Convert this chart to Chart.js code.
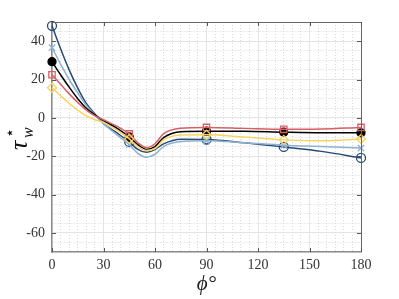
<!DOCTYPE html>
<html>
<head>
<meta charset="utf-8">
<script src="https://cdn.jsdelivr.net/npm/chart.js@4"></script>
<style>
  html, body { margin: 0; padding: 0; background: #fff; }
  #wrap { width: 399px; height: 299px; }
</style>
</head>
<body>
<div id="wrap"><canvas id="myChart" width="399" height="299"></canvas></div>
<script>
// angle phi (deg), markers only at 0, 45, 90, 135, 180
const phi = [0, 5, 10, 15, 20, 25, 30, 38, 45, 50, 55, 60, 65, 75, 90, 112, 135, 157, 180];
const markerAt = [0, 45, 90, 135, 180];

const tauDarkBlue  = [48, 36, 25, 15.5, 7.5, 2, -3, -8, -12.6, -16.5, -18, -16.5, -13.6, -11.2, -11.3, -13, -15.2, -17.5, -20.9];
const tauLightBlue = [36.6, 28, 20, 13, 6.5, 1.5, -3, -9, -14, -18.5, -20.5, -19, -15, -12.4, -12, -13, -14.3, -15, -15.8];
const tauBlack     = [29.3, 22.5, 16, 10, 5, 1.5, -1.5, -5.5, -10, -14, -16.5, -15, -10.3, -7.2, -7, -7, -7.5, -7.8, -7.8];
const tauRed       = [22.5, 17.5, 12.5, 8, 4, 1, -1, -4.5, -8.4, -13, -15.5, -13.5, -8.2, -5.4, -5, -5.5, -6, -5.8, -5];
const tauYellow    = [15.7, 11.5, 7.5, 4, 1, -1, -2.5, -6.5, -11, -15, -17, -16, -11.5, -8.9, -8.8, -10, -11.5, -12, -11];

const xTicks = [0, 30, 60, 90, 120, 150, 180];
const yTicks = [-60, -40, -20, 0, 20, 40];

const serif = "'Liberation Serif', 'DejaVu Serif', serif";

function pts(vals) {
  return phi.map((p, i) => ({ x: p, y: vals[i] }));
}
function radii(r) {
  return phi.map(p => markerAt.includes(p) ? r : 0);
}

function makeSet(label, vals, color, style, r, fill) {
  return {
    label: label,
    data: pts(vals),
    borderColor: color,
    backgroundColor: fill,
    pointStyle: style,
    pointRadius: radii(r),
    pointHoverRadius: radii(r),
    pointBorderColor: color,
    pointBackgroundColor: fill,
    pointBorderWidth: 1.3,
    borderWidth: 1.5,
    tension: 0.4,
    cubicInterpolationMode: 'monotone',
    clip: false
  };
}

// box + inward ticks like matlab, and the y label with sub/superscript
const boxPlugin = {
  id: 'box',
  afterDraw(chart) {
    const c = chart.ctx;
    const a = chart.chartArea;
    const xs = chart.scales.x, ys = chart.scales.y;
    c.save();
    c.strokeStyle = '#666';
    c.lineWidth = 1;
    c.beginPath();
    c.moveTo(a.left, a.top + 0.5); c.lineTo(a.right + 0.5, a.top + 0.5);
    c.lineTo(a.right + 0.5, a.bottom);
    c.stroke();
    c.strokeStyle = '#555';
    c.beginPath();
    xTicks.forEach(v => {
      const px = Math.round(xs.getPixelForValue(v)) + 0.5;
      c.moveTo(px, a.bottom); c.lineTo(px, a.bottom - 4);
      c.moveTo(px, a.top); c.lineTo(px, a.top + 4);
    });
    yTicks.forEach(v => {
      const py = Math.round(ys.getPixelForValue(v)) + 0.5;
      c.moveTo(a.left, py); c.lineTo(a.left + 4, py);
      c.moveTo(a.right, py); c.lineTo(a.right - 4, py);
    });
    c.stroke();

    // y label
    c.translate(21, (a.top + a.bottom) / 2);
    c.rotate(-Math.PI / 2);
    c.fillStyle = '#111';
    c.textBaseline = 'alphabetic';
    c.textAlign = 'left';
    c.font = "italic 26px " + serif;
    c.fillText('τ', -13, 6);
    c.font = "16px " + serif;
    c.fillText('⋆', -1, -6);
    c.font = "italic 16px " + serif;
    c.fillText('w', -1, 12);
    c.restore();
  }
};

const ctx = document.getElementById('myChart').getContext('2d');
const myChart = new Chart(ctx, {
  type: 'line',
  data: {
    datasets: [
      makeSet('yellow', tauYellow, '#f9d35f', 'rectRot', 4.5, 'rgba(255,255,255,0)'),
      makeSet('red', tauRed, '#d95f63', 'rect', 4.5, 'rgba(255,255,255,0)'),
      makeSet('black', tauBlack, '#000000', 'circle', 4, '#000000'),
      makeSet('light blue', tauLightBlue, '#8fb1d1', 'crossRot', 4.5, 'rgba(255,255,255,0)'),
      makeSet('dark blue', tauDarkBlue, '#264a73', 'circle', 4.5, 'rgba(255,255,255,0)')
    ]
  },
  options: {
    responsive: false,
    animation: false,
    layout: { padding: { left: 0, right: 38, top: 22, bottom: 0 } },
    plugins: {
      legend: { display: false },
      tooltip: { enabled: false }
    },
    scales: {
      x: {
        type: 'linear',
        min: 0, max: 180,
        afterFit(scale) { scale.height = 47; },
        ticks: {
          stepSize: 5,
          autoSkip: false,
          maxRotation: 0,
          padding: 5,
          color: '#333',
          font: { family: serif, size: 14 },
          callback: v => v % 30 === 0 ? String(v) : ''
        },
        grid: {
          drawTicks: false,
          color: c => (c.tick && c.tick.value % 30 === 0) ? '#e4e4e4' : '#d8d8d8',
          lineWidth: 1
        },
        border: {
          color: '#8c8c8c',
          width: 1.5,
          dash: c => (c.tick && c.tick.value % 30 !== 0) ? [1, 2] : []
        },
        title: {
          display: true,
          text: 'ϕ°',
          color: '#222',
          padding: { top: 0, bottom: 2 },
          font: { family: serif, size: 21, style: 'italic' }
        }
      },
      y: {
        min: -70, max: 50,
        afterFit(scale) { scale.width = 52; },
        ticks: {
          stepSize: 5,
          autoSkip: false,
          padding: 7,
          color: '#333',
          font: { family: serif, size: 14 },
          callback: v => v % 20 === 0 ? String(v) : ''
        },
        grid: {
          drawTicks: false,
          color: c => (c.tick && c.tick.value % 20 === 0) ? '#e4e4e4' : '#d8d8d8',
          lineWidth: 1
        },
        border: {
          color: '#8c8c8c',
          width: 1.5,
          dash: c => (c.tick && c.tick.value % 20 !== 0) ? [1, 2] : []
        }
      }
    }
  },
  plugins: [boxPlugin]
});
</script>
</body>
</html>
